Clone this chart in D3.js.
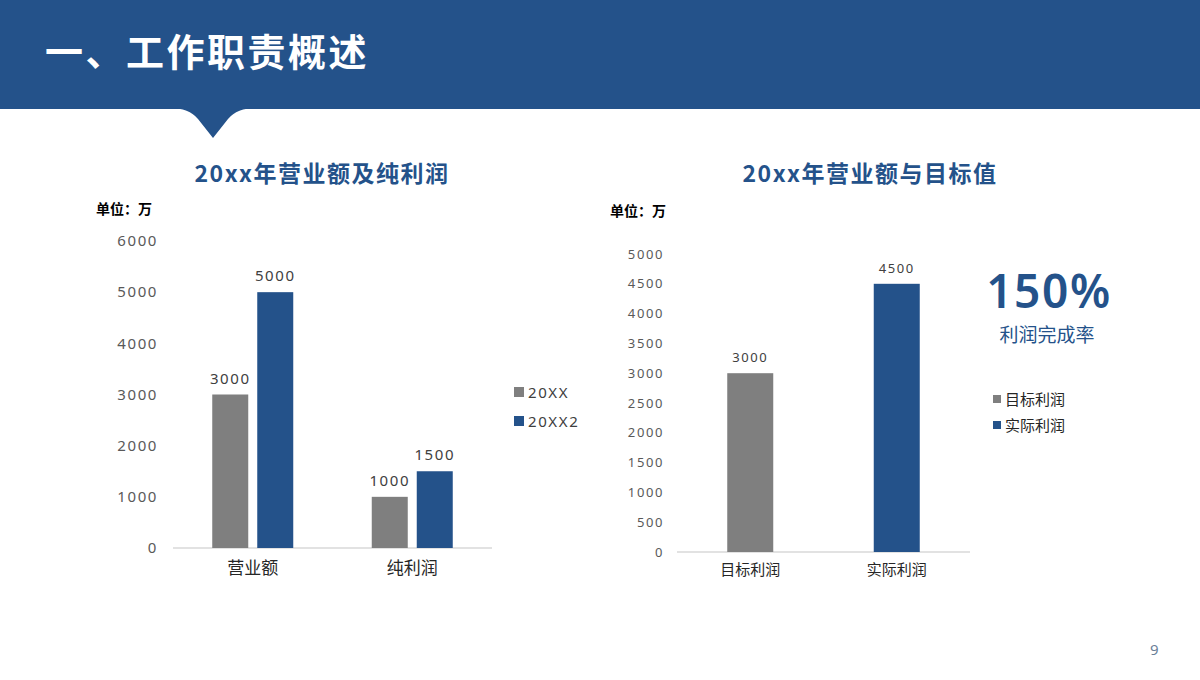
<!DOCTYPE html>
<html>
<head>
<meta charset="utf-8">
<script src="https://cdn.jsdelivr.net/npm/d3@7"></script>
<style>
  body { margin: 0; background: #fff; }
  svg { display: block; }
  .num { font-family: "Noto Sans", "DejaVu Sans", sans-serif; letter-spacing: 1.6px; }
  .cjk { font-family: "Noto Sans CJK SC", sans-serif; }
</style>
</head>
<body>
<svg id="slide"></svg>
<script>
// left chart data
const salesCategories = ['营业额', '纯利润'];
const salesSeries = ['20XX', '20XX2'];
const salesValues = [[3000, 5000], [1000, 1500]];
const salesTicks = [0, 1000, 2000, 3000, 4000, 5000, 6000];

// right chart data
const profitCategories = ['目标利润', '实际利润'];
const profitValues = [3000, 4500];
const profitTicks = [0, 500, 1000, 1500, 2000, 2500, 3000, 3500, 4000, 4500, 5000];

const blue = '#24528a';
const gray = '#7f7f7f';
const W = 1200, H = 680;

const svg = d3.select('#slide').attr('width', W).attr('height', H);

// header band with notch
svg.append('rect').attr('x', 0).attr('y', 0).attr('width', W).attr('height', 109).attr('fill', blue);
svg.append('path')
  .attr('d', 'M170,108 Q189,108 198,119 L213,138 L228,119 Q237,108 256,108 Z')
  .attr('fill', blue);
svg.append('text').attr('class', 'cjk')
  .attr('x', 45).attr('y', 66)
  .attr('fill', '#fff').attr('font-size', 38).attr('font-weight', 700)
  .attr('letter-spacing', 2.5)
  .text('一、工作职责概述');

function chartTitle(x, text) {
  svg.append('text').attr('class', 'cjk')
    .attr('x', x).attr('y', 182).attr('text-anchor', 'middle')
    .attr('fill', blue).attr('font-size', 23).attr('font-weight', 700)
    .attr('letter-spacing', 1.5)
    .text(text);
}
chartTitle(322, '20xx年营业额及纯利润');
chartTitle(870, '20xx年营业额与目标值');

function unitLabel(x, y) {
  svg.append('text').attr('class', 'cjk')
    .attr('x', x).attr('y', y).attr('fill', '#000')
    .attr('font-size', 14).attr('font-weight', 700)
    .text('单位：万');
}
unitLabel(96, 214);
unitLabel(610, 216);

// ---- left chart ----
(function () {
  const x0 = d3.scaleBand().domain(salesCategories).range([173, 492]);
  const x1 = d3.scaleBand().domain(salesSeries).range([0, 81]).paddingInner(0.2);
  const y = d3.scaleLinear().domain([0, 6000]).range([548, 241]);
  const color = d3.scaleOrdinal().domain(salesSeries).range([gray, blue]);

  const g = svg.append('g');

  const yAxis = g.append('g').attr('transform', 'translate(158,0)')
    .call(d3.axisLeft(y).tickValues(salesTicks).tickFormat(d3.format('d'))
      .tickSize(0).tickPadding(0));
  yAxis.select('.domain').remove();
  yAxis.selectAll('text').attr('class', 'num').attr('font-size', 15)
    .attr('fill', '#595959');

  g.append('line').attr('x1', 173).attr('x2', 492)
    .attr('y1', y(0)).attr('y2', y(0)).attr('stroke', '#d9d9d9').attr('stroke-width', 1.5);

  salesCategories.forEach((cat, ci) => {
    const start = x0(cat) + (x0.bandwidth() - 81) / 2;
    salesSeries.forEach((s, si) => {
      const v = salesValues[ci][si];
      g.append('rect')
        .attr('x', start + x1(s)).attr('width', x1.bandwidth())
        .attr('y', y(v)).attr('height', y(0) - y(v))
        .attr('fill', color(s));
      g.append('text').attr('class', 'num')
        .attr('x', start + x1(s) + x1.bandwidth() / 2).attr('y', y(v) - 11)
        .attr('text-anchor', 'middle').attr('font-size', 15).attr('fill', '#404040')
        .text(v);
    });
    g.append('text').attr('class', 'cjk')
      .attr('x', x0(cat) + x0.bandwidth() / 2).attr('y', 574)
      .attr('text-anchor', 'middle').attr('font-size', 17).attr('fill', '#262626')
      .text(cat);
  });

  salesSeries.forEach((s, i) => {
    const ly = 392 + i * 29;
    g.append('rect').attr('x', 514).attr('y', ly - 5).attr('width', 10).attr('height', 10)
      .attr('fill', color(s));
    g.append('text').attr('class', 'num')
      .attr('x', 528).attr('y', ly + 5.5).attr('font-size', 15).attr('fill', '#404040')
      .text(s);
  });
})();

// ---- right chart ----
(function () {
  const x = d3.scaleBand().domain(profitCategories).range([677, 970]);
  const y = d3.scaleLinear().domain([0, 5000]).range([552, 254]);
  const color = d3.scaleOrdinal().domain(profitCategories).range([gray, blue]);
  const bw = 46;

  const g = svg.append('g');

  const yAxis = g.append('g').attr('transform', 'translate(664,0)')
    .call(d3.axisLeft(y).tickValues(profitTicks).tickFormat(d3.format('d'))
      .tickSize(0).tickPadding(0));
  yAxis.select('.domain').remove();
  yAxis.selectAll('text').attr('class', 'num').attr('font-size', 13)
    .attr('fill', '#595959');

  g.append('line').attr('x1', 677).attr('x2', 970)
    .attr('y1', y(0)).attr('y2', y(0)).attr('stroke', '#d9d9d9').attr('stroke-width', 1.5);

  profitCategories.forEach((cat, i) => {
    const v = profitValues[i];
    const cx = x(cat) + x.bandwidth() / 2;
    g.append('rect')
      .attr('x', cx - bw / 2).attr('width', bw)
      .attr('y', y(v)).attr('height', y(0) - y(v))
      .attr('fill', color(cat));
    g.append('text').attr('class', 'num')
      .attr('x', cx).attr('y', y(v) - 11)
      .attr('text-anchor', 'middle').attr('font-size', 13).attr('fill', '#404040')
      .text(v);
    g.append('text').attr('class', 'cjk')
      .attr('x', cx).attr('y', 575)
      .attr('text-anchor', 'middle').attr('font-size', 15).attr('fill', '#262626')
      .text(cat);
  });

  profitCategories.forEach((cat, i) => {
    const ly = 399 + i * 26;
    g.append('rect').attr('x', 993).attr('y', ly - 4).attr('width', 8).attr('height', 8)
      .attr('fill', color(cat));
    g.append('text').attr('class', 'cjk')
      .attr('x', 1005).attr('y', ly + 5.5).attr('font-size', 15).attr('fill', '#262626')
      .text(cat);
  });

  // completion rate
  const rate = Math.round(profitValues[1] / profitValues[0] * 100);
  g.append('text').attr('class', 'num')
    .attr('x', 1049).attr('y', 308).attr('text-anchor', 'middle')
    .attr('font-size', 46).attr('font-weight', 600).attr('fill', blue)
    .attr('letter-spacing', 3)
    .text(rate + '%');
  g.append('text').attr('class', 'cjk')
    .attr('x', 1047).attr('y', 342).attr('text-anchor', 'middle')
    .attr('font-size', 19).attr('fill', blue)
    .text('利润完成率');
})();

svg.append('text').attr('class', 'num')
  .attr('x', 1155).attr('y', 655).attr('text-anchor', 'middle')
  .attr('font-size', 15).attr('fill', '#6b7f99')
  .text('9');
</script>
</body>
</html>
